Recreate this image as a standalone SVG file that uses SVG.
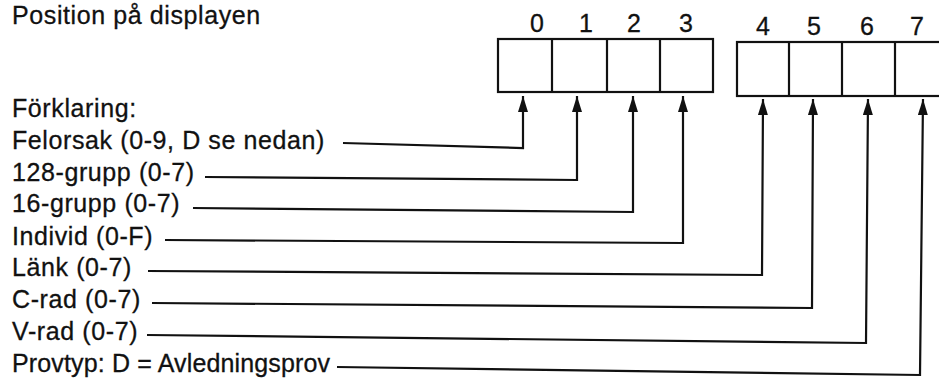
<svg xmlns="http://www.w3.org/2000/svg" width="939" height="379" viewBox="0 0 939 379">
<style>
text{font-family:"Liberation Sans",Arial,sans-serif;font-size:25px;fill:#111;letter-spacing:0.6px;stroke:#111;stroke-width:0.3}
.num{text-anchor:middle;letter-spacing:0}
.box{fill:none;stroke:#111;stroke-width:2.2}
.con{fill:none;stroke:#111;stroke-width:2.2;marker-end:url(#ah)}
</style>
<defs>
<marker id="ah" markerUnits="userSpaceOnUse" markerWidth="16" markerHeight="10" refX="16" refY="5" orient="auto" viewBox="0 0 16 10">
<path d="M0 0 L16 5 L0 10 Z" fill="#111"/>
</marker>
</defs>
<rect width="939" height="379" fill="#fff"/>
<g id="title"><text x="12" y="24">Position på displayen</text></g>
<g id="display-left">
<rect class="box" x="498" y="39" width="215" height="53"/>
<line class="box" x1="552" y1="39" x2="552" y2="92"/>
<line class="box" x1="607" y1="39" x2="607" y2="92"/>
<line class="box" x1="660" y1="39" x2="660" y2="92"/>
<text class="num" x="537" y="32">0</text>
<text class="num" x="586" y="32">1</text>
<text class="num" x="634" y="32">2</text>
<text class="num" x="686" y="32">3</text>
</g>
<g id="display-right">
<rect class="box" x="737" y="42" width="215" height="54"/>
<line class="box" x1="789" y1="42" x2="789" y2="96"/>
<line class="box" x1="842" y1="42" x2="842" y2="96"/>
<line class="box" x1="895" y1="42" x2="895" y2="96"/>
<text class="num" x="763" y="35">4</text>
<text class="num" x="814" y="35">5</text>
<text class="num" x="867" y="35">6</text>
<text class="num" x="917" y="35">7</text>
</g>
<g id="legend">
<text x="12" y="117">Förklaring:</text>
<text x="12" y="149">Felorsak (0-9, D se nedan)</text>
<text x="12" y="181">128-grupp (0-7)</text>
<text x="12" y="212">16-grupp (0-7)</text>
<text x="12" y="245">Individ (0-F)</text>
<text x="12" y="276">Länk (0-7)</text>
<text x="12" y="308">C-rad (0-7)</text>
<text x="12" y="340">V-rad (0-7)</text>
<text x="12" y="372" textLength="318" lengthAdjust="spacing" style="letter-spacing:0">Provtyp: D = Avledningsprov</text>
</g>
<g id="connectors">
<path class="con" d="M343 143 L523 148 L523 96"/>
<path class="con" d="M205 177 L577 180 L577 96"/>
<path class="con" d="M193 208 L633 212 L633 96"/>
<path class="con" d="M165 240 L683 243 L683 96"/>
<path class="con" d="M148 271 L762 275 L763 99"/>
<path class="con" d="M152 303 L812 308 L813 99"/>
<path class="con" d="M147 335 L866 343 L868 99"/>
<path class="con" d="M337 367 L920 375 L923 99"/>
</g>
</svg>
